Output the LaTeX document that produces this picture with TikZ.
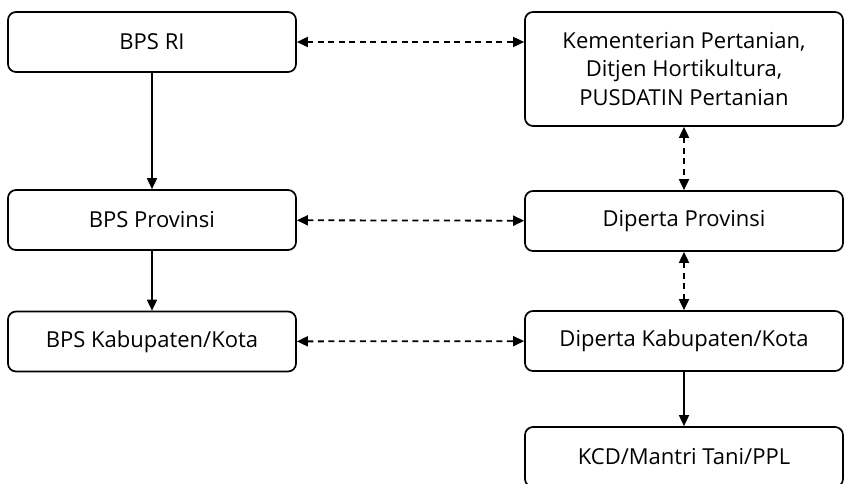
\documentclass[tikz,border=0pt]{standalone}
\usepackage{fontspec}
\setmainfont{Open Sans}
\usetikzlibrary{arrows.meta}
\begin{document}
\begin{tikzpicture}[x=1pt,y=-1pt,
  box/.style={draw, line width=1.7pt, rounded corners=8pt, inner sep=0pt, align=center,
    font=\fontsize{22}{28.5}\selectfont},
  lbox/.style={box, minimum width=288pt, minimum height=60pt},
  rbox/.style={box, minimum width=318pt, minimum height=60pt},
  solidarr/.style={line width=1.7pt, -{Triangle[length=11pt,width=10pt]}},
  dasharr/.style={line width=1.8pt, dash pattern=on 6pt off 4.5pt,
    {Triangle[length=11pt,width=10pt]}-{Triangle[length=11pt,width=10pt]}}]
\useasboundingbox (0,0) rectangle (845,483);
\node[lbox] (bpsri) at (152,42) {BPS RI};
\node[lbox] (bpsprov) at (152,220) {BPS Provinsi};
\node[lbox] (bpskab) at (152,341.5) {BPS Kabupaten/Kota};
\node[rbox, minimum height=114pt] (kem) at (684,69) {Kementerian Pertanian,\\Ditjen Hortikultura,\\PUSDATIN Pertanian};
\node[rbox] (dprov) at (684,221) {Diperta Provinsi};
\node[rbox] (dkab) at (684,341) {Diperta Kabupaten/Kota};
\node[rbox] (kcd) at (684,457) {KCD/Mantri Tani/PPL};
\draw[solidarr] (bpsri) -- (bpsprov);
\draw[solidarr] (bpsprov) -- (bpskab);
\draw[solidarr] (dkab) -- (kcd);
\draw[dasharr] (bpsri) -- (bpsri -| kem.west);
\draw[dasharr] (bpsprov) -- (dprov);
\draw[dasharr] (bpskab) -- (dkab);
\draw[dasharr] (kem) -- (dprov);
\draw[dasharr] (dprov) -- (dkab);
\end{tikzpicture}
\end{document}
